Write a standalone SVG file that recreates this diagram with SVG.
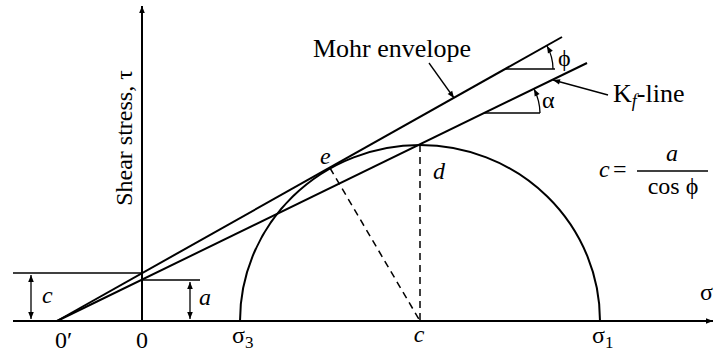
<svg xmlns="http://www.w3.org/2000/svg" width="715" height="358" viewBox="0 0 715 358">
<defs>
<marker id="ah" viewBox="0 0 10 10" refX="10" refY="5" markerWidth="11" markerHeight="7" markerUnits="userSpaceOnUse" orient="auto-start-reverse">
<path d="M0,1 L10,5 L0,9 Z" fill="#000"/>
</marker>
<style>
.ln{stroke:#000;stroke-width:2;fill:none}
.th{stroke:#000;stroke-width:1.3;fill:none}
.ds{stroke:#000;stroke-width:1.5;fill:none;stroke-dasharray:7,5}
text{font-family:"Liberation Serif","Times New Roman",serif;font-size:24px;fill:#000}
.it{font-style:italic}
.big{font-size:26px}
</style>
</defs>
<rect width="715" height="358" fill="#fff"/>
<g id="axes">
<line class="ln" x1="142" y1="321" x2="142" y2="6" marker-end="url(#ah)"/>
<line class="ln" x1="13" y1="321" x2="713" y2="321" marker-end="url(#ah)"/>
<text transform="translate(132,138) rotate(-90)" text-anchor="middle" font-size="25">Shear stress, τ</text>
<text x="700" y="300">σ</text>
</g>
<g id="circle">
<path class="ln" d="M240,321 A180,176 0 0 1 600,321"/>
<line class="ds" x1="420" y1="145" x2="420" y2="321"/>
<line class="ds" x1="330" y1="168" x2="420" y2="321"/>
<text class="it" x="320" y="164">e</text>
<text class="it" x="433" y="179">d</text>
<text class="it" x="419" y="342" text-anchor="middle">c</text>
<text x="232" y="343">σ<tspan font-size="17" dy="5">3</tspan></text>
<text x="592" y="343">σ<tspan font-size="17" dy="5">1</tspan></text>
</g>
<g id="envelope">
<line class="ln" x1="57" y1="321" x2="562" y2="37"/>
<line class="th" x1="505" y1="69" x2="555" y2="69"/>
<path class="th" d="M553,69 A48,48 0 0 0 547,46" marker-end="url(#ah)"/>
<text x="558" y="66">ϕ</text>
<text class="big" x="313" y="57">Mohr envelope</text>
</g>
<g id="kf-line">
<line class="ln" x1="57" y1="321" x2="587" y2="63"/>
<line class="th" x1="484" y1="113" x2="540" y2="113"/>
<path class="th" d="M540,113 A56,56 0 0 0 534,89" marker-end="url(#ah)"/>
<text x="542" y="108">α</text>
<text class="big" x="613" y="102">K<tspan class="it" font-size="18" dy="5">f</tspan><tspan dy="-5">-line</tspan></text>
</g>
<g id="intercepts">
<line class="th" x1="13" y1="273" x2="142" y2="273"/>
<line class="th" x1="142" y1="280" x2="200" y2="280"/>
<text class="it" x="42" y="303">c</text>
<text class="it" x="199" y="305">a</text>
<text x="55" y="348">0′</text>
<text x="142" y="348" text-anchor="middle">0</text>
</g>
<g id="formula">
<text class="it" x="599" y="177">c</text>
<text x="613" y="177">=</text>
<line class="th" x1="637" y1="171" x2="708" y2="171"/>
<text class="it" x="672" y="161" text-anchor="middle">a</text>
<text x="673" y="194" text-anchor="middle">cos ϕ</text>
</g>
<g id="connectors">
<line class="th" x1="31" y1="275" x2="31" y2="319" marker-start="url(#ah)" marker-end="url(#ah)"/>
<line class="th" x1="190" y1="282" x2="190" y2="319" marker-start="url(#ah)" marker-end="url(#ah)"/>
<line class="th" x1="429" y1="63" x2="454" y2="98" marker-end="url(#ah)"/>
<line class="th" x1="608" y1="95" x2="553" y2="80" marker-end="url(#ah)"/>
</g>
</svg>
